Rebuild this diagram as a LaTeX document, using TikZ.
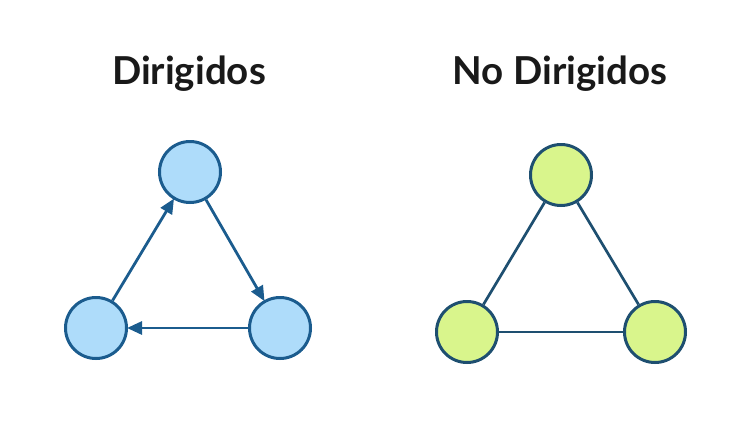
\documentclass[tikz,border=0pt]{standalone}
\usepackage{fontspec}
\setmainfont{Lato}
\usetikzlibrary{arrows.meta}
\definecolor{bfill}{HTML}{AEDCFA}
\definecolor{bdraw}{HTML}{1B5C8E}
\definecolor{gfill}{HTML}{D9F58C}
\definecolor{gdraw}{HTML}{1E4F70}
\tikzset{
  bnode/.style={circle, draw=bdraw, fill=bfill, line width=3pt, minimum size=61pt, inner sep=0pt},
  gnode/.style={circle, draw=gdraw, fill=gfill, line width=3pt, minimum size=61pt, inner sep=0pt},
  darrow/.style={draw=bdraw, line width=2.8pt, -{Triangle[length=15pt,width=13pt]}, shorten >=-1pt},
  uedge/.style={draw=gdraw, line width=2.7pt},
  title/.style={font=\fontsize{38.5}{40}\selectfont\bfseries, text=black!90, anchor=base, inner sep=0pt}
}
\begin{document}
\begin{tikzpicture}[x=1pt,y=-1pt]
\useasboundingbox (0,0) rectangle (748,424);
\node[title] (t1) at (189,84) {Dirigidos};
\node[title] (t2) at (560,84) {No Dirigidos};
\node[bnode] (a) at (190,172) {};
\node[bnode] (b) at (96,328) {};
\node[bnode] (c) at (280,328) {};
\draw[darrow] (b) -- (a);
\draw[darrow] (a) -- (c);
\draw[darrow] (c) -- (b);
\node[gnode] (d) at (561,175) {};
\node[gnode] (e) at (467,332) {};
\node[gnode] (f) at (655,332) {};
\draw[uedge] (e) -- (d);
\draw[uedge] (d) -- (f);
\draw[uedge] (f) -- (e);
\end{tikzpicture}
\end{document}
